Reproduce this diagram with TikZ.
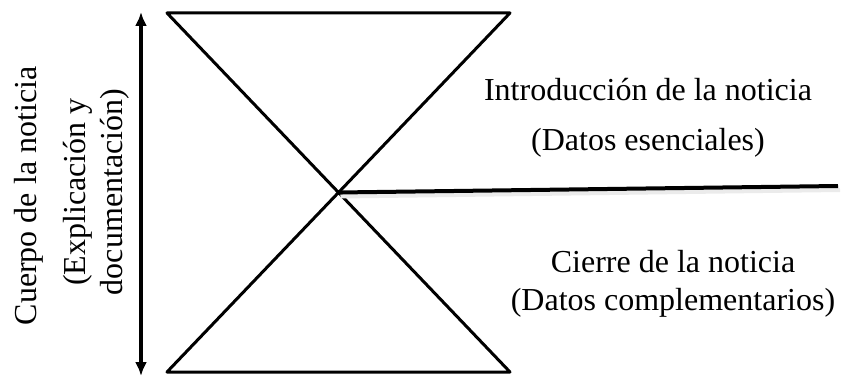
\documentclass[tikz,border=0pt]{standalone}
\usepackage{fontspec}
\setmainfont{Liberation Serif}
\usetikzlibrary{arrows.meta,calc}
\tikzset{
  texto/.style={font=\fontsize{32}{38}\selectfont, align=center, inner sep=0pt},
  lado/.style={line width=3pt, line join=round, line cap=round}
}

\begin{document}
\begin{tikzpicture}[x=1pt, y=-1pt]
			%%%%% START %%%%%
			\useasboundingbox (0, 0) rectangle (841, 377);
			
			\coordinate (arribaIzq) at (167, 13);
			\coordinate (arribaDer) at (510, 13);
			\coordinate (abajoIzq) at (167, 372);
			\coordinate (abajoDer) at (510, 372);
			\coordinate (centro) at (338.5, 192.5);
			\coordinate (finLinea) at (838, 186);
			
			\draw[lado] (arribaIzq) -- (arribaDer) -- (centro) -- cycle;
			\draw[lado] (abajoIzq) -- (abajoDer) -- (centro) -- cycle;
			
			\draw[line width=4pt, color=black!8] ($(centro)+(2, 4)$) -- ($(finLinea)+(2, 4)$);
			\draw[line width=4pt] (centro) -- (finLinea);
			
			\coordinate (flechaArriba) at (141, 12);
			\coordinate (flechaAbajo) at (141, 376);
			\draw[line width=3.5pt, {Latex[length=14pt, width=12pt]}-{Latex[length=14pt, width=12pt]}] (flechaArriba) -- (flechaAbajo);
			
			\node[texto, rotate=90] (cuerpo) at (29, 196) {Cuerpo de la noticia};
			\node[texto, rotate=90] (explica) at (96, 192) {(Explicación y\\[-1pt]documentación)};
			
			\node[texto] (intro) at (648, 118) {Introducción de la noticia\\[12pt](Datos esenciales)};
			\node[texto] (cierre) at (673, 284) {Cierre de la noticia\\(Datos complementarios)};
			%%%%% END %%%%%
\end{tikzpicture}
\end{document}
